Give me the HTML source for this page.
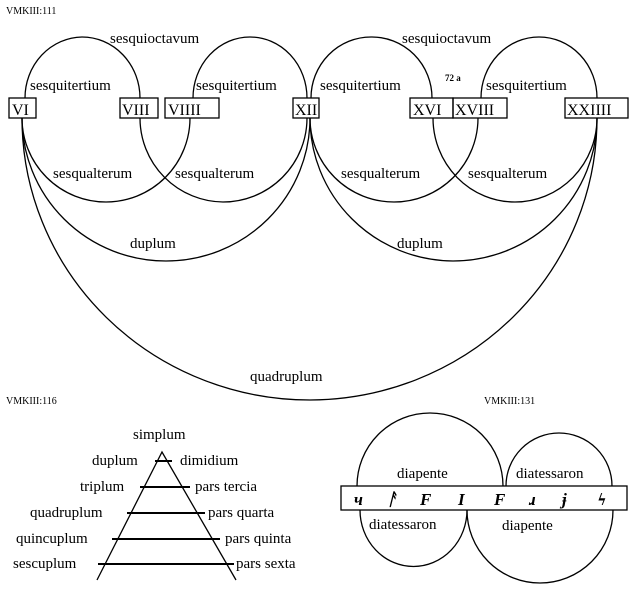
<!DOCTYPE html>
<html><head><meta charset="utf-8"><style>
html,body{margin:0;padding:0;background:#fff;}
svg{display:block;}
text{font-family:"Liberation Serif",serif;fill:#000;}
.l{font-size:15px;}
.s{font-size:10px;}
.b{font-size:16px;}
</style></head><body>
<svg width="642" height="612" viewBox="0 0 642 612" xmlns="http://www.w3.org/2000/svg">
<g fill="none" stroke="#000" stroke-width="1.3">
<path d="M25 98 A58 61 0 0 1 82 37 A58 61 0 0 1 140 98"/>
<path d="M193 98 A57 61 0 0 1 250 37 A57 61 0 0 1 307 98"/>
<path d="M311 98 A60 61 0 0 1 371 37 A60 61 0 0 1 432 98"/>
<path d="M481 98 A58 61 0 0 1 539 37 A58 61 0 0 1 597 98"/>
<path d="M22 118 A84 84 0 0 0 106 202 A84 84 0 0 0 190 118"/>
<path d="M140 118 A84 84 0 0 0 223 202 A84 84 0 0 0 307 118"/>
<path d="M310 118 A84 84 0 0 0 394 202 A84 84 0 0 0 478 118"/>
<path d="M433 118 A82 84 0 0 0 515 202 A82 84 0 0 0 597 118"/>
<path d="M22 118 A144 143 0 0 0 166 261 A144 143 0 0 0 310 118"/>
<path d="M310 118 A144 143 0 0 0 453 261 A144 143 0 0 0 597 118"/>
<path d="M22 118 A288 282 0 0 0 310 400 A288 282 0 0 0 597 118"/>
<rect x="9" y="98" width="27" height="20"/>
<rect x="120" y="98" width="38" height="20"/>
<rect x="165" y="98" width="54" height="20"/>
<rect x="293" y="98" width="26" height="20"/>
<rect x="410" y="98" width="43" height="20"/>
<rect x="453" y="98" width="54" height="20"/>
<rect x="565" y="98" width="63" height="20"/>
<path d="M97 580 L162 452 L236 580"/>
<path d="M155 461 L172 461 M140 487 L190 487 M127 513 L205 513 M112 539 L220 539 M98 564 L234 564" stroke-width="2"/>
<path d="M357 486 A73 73 0 0 1 503 486"/>
<path d="M506 486 A53 53 0 0 1 612 486"/>
<path d="M360 510 A53 56 0 0 0 467 510"/>
<path d="M467 510 A73 73 0 0 0 613 510"/>
<rect x="341" y="486" width="286" height="24" fill="#fff"/>
</g>
<text x="6" y="14" class="s">VMKIII:111</text>
<text x="110" y="43" class="l">sesquioctavum</text>
<text x="402" y="43" class="l">sesquioctavum</text>
<text x="30" y="90" class="l">sesquitertium</text>
<text x="196" y="90" class="l">sesquitertium</text>
<text x="320" y="90" class="l">sesquitertium</text>
<text x="486" y="90" class="l">sesquitertium</text>
<text x="445" y="81" font-size="9" font-weight="bold" font-family="Liberation Sans">72 a</text>
<text x="12" y="115" class="b">VI</text>
<text x="122" y="115" class="b">VIII</text>
<text x="168" y="115" class="b">VIIII</text>
<text x="295" y="115" class="b">XII</text>
<text x="413" y="115" class="b">XVI</text>
<text x="455" y="115" class="b">XVIII</text>
<text x="567" y="115" class="b">XXIIII</text>
<text x="53" y="178" class="l">sesqualterum</text>
<text x="175" y="178" class="l">sesqualterum</text>
<text x="341" y="178" class="l">sesqualterum</text>
<text x="468" y="178" class="l">sesqualterum</text>
<text x="130" y="248" class="l">duplum</text>
<text x="397" y="248" class="l">duplum</text>
<text x="250" y="381" class="l">quadruplum</text>
<text x="6" y="404" class="s">VMKIII:116</text>
<text x="484" y="404" class="s">VMKIII:131</text>
<text x="133" y="439" class="l">simplum</text>
<text x="92" y="465" class="l">duplum</text>
<text x="180" y="465" class="l">dimidium</text>
<text x="80" y="491" class="l">triplum</text>
<text x="195" y="491" class="l">pars tercia</text>
<text x="30" y="517" class="l">quadruplum</text>
<text x="208" y="517" class="l">pars quarta</text>
<text x="16" y="543" class="l">quincuplum</text>
<text x="225" y="543" class="l">pars quinta</text>
<text x="13" y="568" class="l">sescuplum</text>
<text x="236" y="568" class="l">pars sexta</text>
<text x="397" y="478" class="l">diapente</text>
<text x="516" y="478" class="l">diatessaron</text>
<text x="369" y="529" class="l">diatessaron</text>
<text x="502" y="530" class="l">diapente</text>
<g font-style="italic" font-weight="bold" font-size="17">
<text x="354" y="505">ч</text><text x="387" y="505">ᚨ</text><text x="420" y="505">F</text><text x="458" y="505">I</text>
<text x="494" y="505">F</text><text x="529" y="505">ɹ</text><text x="562" y="505">ɉ</text><text x="598" y="505">ϟ</text>
</g>
</svg>
</body></html>
